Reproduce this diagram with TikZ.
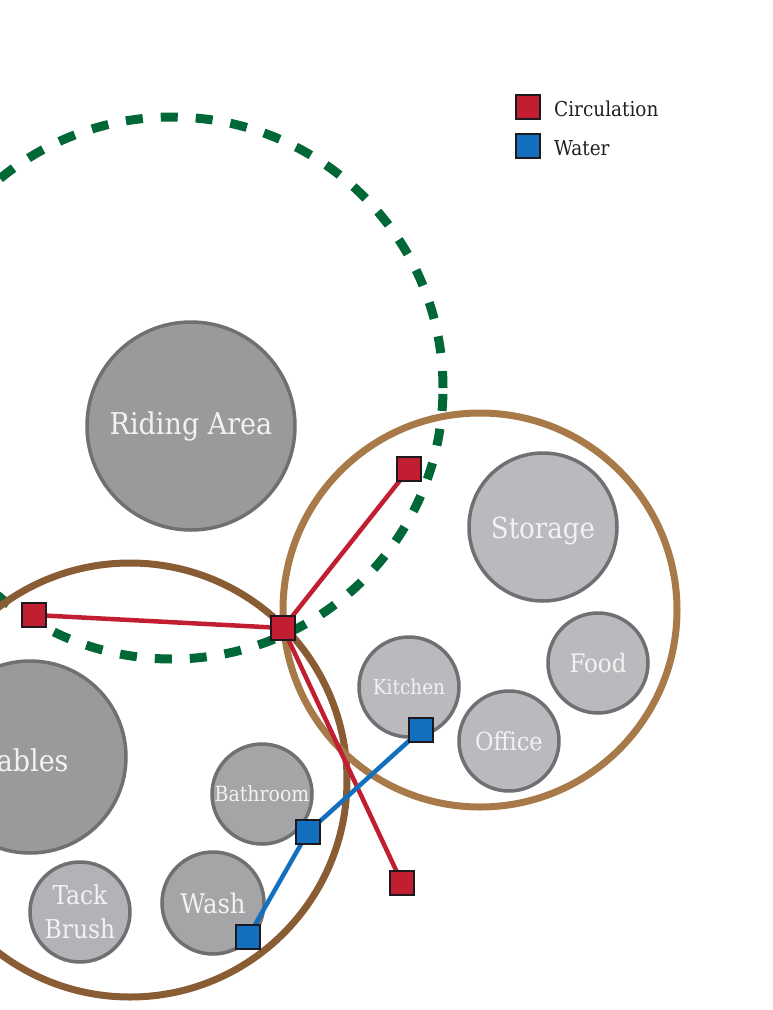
\documentclass[tikz,border=0pt]{standalone}
\usepackage{fontspec}
\setmainfont{DejaVu Serif Condensed}
\definecolor{greenD}{RGB}{0,104,55}
\definecolor{brownL}{RGB}{168,122,74}
\definecolor{brownD}{RGB}{138,92,52}
\definecolor{roomEdge}{RGB}{112,112,115}
\definecolor{roomA}{RGB}{154,154,157}
\definecolor{roomB}{RGB}{165,165,168}
\definecolor{roomC}{RGB}{178,179,182}
\definecolor{roomL}{RGB}{185,186,189}
\definecolor{circRed}{RGB}{193,30,50}
\definecolor{waterBlue}{RGB}{19,112,190}
\definecolor{sqEdge}{RGB}{30,25,30}
\definecolor{txtW}{RGB}{242,242,242}
\definecolor{txtD}{RGB}{35,31,32}
\tikzset{
  room/.style={circle, draw=roomEdge, line width=3.5pt, inner sep=0pt, text=txtW, align=center},
  roomtext/.style={inner sep=0pt, text=txtW, align=center},
  zone/.style={circle, draw, line width=7pt, inner sep=0pt},
  marker/.style={rectangle, draw=sqEdge, line width=2pt, minimum size=24pt, inner sep=0pt},
  redsq/.style={marker, fill=circRed},
  bluesq/.style={marker, fill=waterBlue},
  redline/.style={draw=circRed, line width=4.5pt},
  blueline/.style={draw=waterBlue, line width=4.5pt},
}
\begin{document}
\begin{tikzpicture}[x=1pt,y=-1pt]
\useasboundingbox (0,0) rectangle (773,1010);
\clip (0,0) rectangle (773,1010);
% dashed green zone
\node[circle, draw=greenD, line width=9pt, dash pattern=on 17pt off 18pt, minimum size=542pt, inner sep=0pt] (ridingzone) at (172,388) {};
% brown zones
\node[zone, draw=brownD, minimum size=434pt] (stablezone) at (130,780) {};
\node[zone, draw=brownL, minimum size=394pt] (storezone) at (480,610) {};
% rooms
\node[room, fill=roomA, minimum size=208pt, font=\fontsize{30}{34}\selectfont] (riding) at (191,426) {Riding Area};
\node[room, fill=roomA, minimum size=192pt] (stables) at (30,757) {};
\node[roomtext, font=\fontsize{30}{34}\selectfont] (stablestxt) at ([xshift=-12pt,yshift=-3pt]stables.center) {Stables};
\node[room, fill=roomL, minimum size=148pt] (storage) at (543,527) {};
\node[roomtext, font=\fontsize{29}{32}\selectfont] (storagetxt) at ([yshift=-4pt]storage.center) {Storage};
\node[room, fill=roomL, minimum size=100pt, font=\fontsize{25.5}{28}\selectfont] (food) at (598,663) {Food};
\node[room, fill=roomL, minimum size=100pt, font=\fontsize{25}{28}\selectfont] (office) at (509,741) {Office};
\node[room, fill=roomL, minimum size=100pt, font=\fontsize{20.5}{24}\selectfont] (kitchen) at (409,687) {Kitchen};
\node[room, fill=roomB, minimum size=100pt, font=\fontsize{21}{24}\selectfont] (bathroom) at (262,794) {Bathroom};
\node[room, fill=roomB, minimum size=102pt, font=\fontsize{27}{30}\selectfont] (wash) at (213,903) {Wash};
\node[room, fill=roomC, minimum size=100pt, font=\fontsize{26}{34}\selectfont] (tack) at (80,912) {Tack\\Brush};
% markers
\node[redsq] (r1) at (409,469) {};
\node[redsq] (r2) at (283,628) {};
\node[redsq] (r3) at (34,615) {};
\node[redsq] (r4) at (402,883) {};
\node[bluesq] (b1) at (421,730) {};
\node[bluesq] (b2) at (308,832) {};
\node[bluesq] (b3) at (248,937) {};
% connectors
\path[redline] (r3.center) -- (r2.center);
\path[redline] (r2.center) -- (r1.center);
\path[redline] (r2.center) -- (r4.center);
\path[blueline] (b3.center) -- (b2.center) -- (b1.center);
% markers on top of connectors
\node[redsq] at (r1) {};
\node[redsq] at (r2) {};
\node[redsq] at (r3) {};
\node[redsq] at (r4) {};
\node[bluesq] at (b1) {};
\node[bluesq] at (b2) {};
\node[bluesq] at (b3) {};
% legend
\node[redsq] (legred) at (528,107) {};
\node[bluesq] (legblue) at (528,146) {};
\node[anchor=west, text=txtD, font=\fontsize{20.5}{24}\selectfont, inner sep=0pt] (legredtxt) at ([xshift=13pt,yshift=-2pt]legred.east) {Circulation};
\node[anchor=west, text=txtD, font=\fontsize{20.5}{24}\selectfont, inner sep=0pt] (legbluetxt) at ([xshift=13pt,yshift=-2pt]legblue.east) {Water};
\end{tikzpicture}
\end{document}
